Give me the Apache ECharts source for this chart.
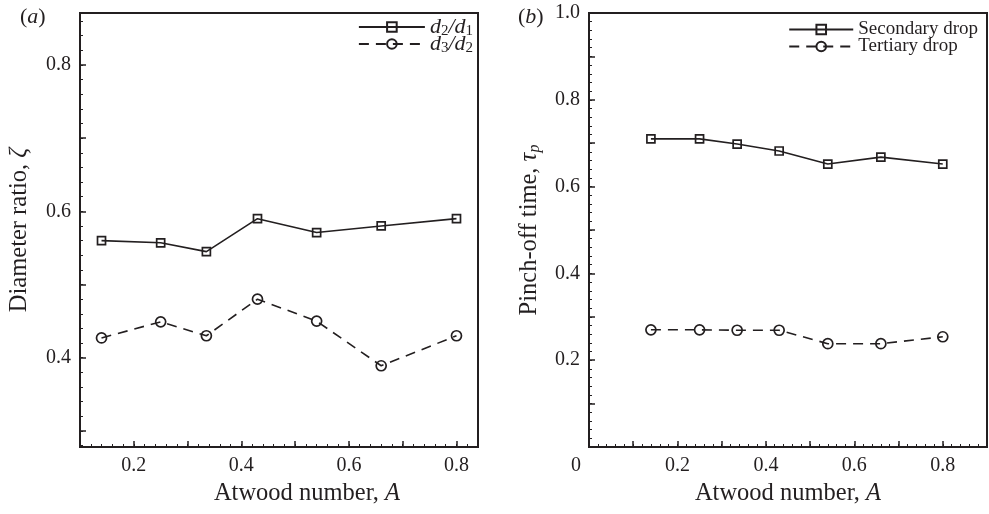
<!DOCTYPE html>
<html><head><meta charset="utf-8">
<script src="https://cdn.jsdelivr.net/npm/echarts@6/dist/echarts.min.js"></script>
<style>html,body{margin:0;padding:0;background:#fff}#c{width:989px;height:514px}</style>
</head><body><div id="c"></div>
<script>
// ---- data ----
const atwood = [0.14, 0.25, 0.335, 0.43, 0.54, 0.66, 0.80];
const ratioD2D1 = [0.560, 0.557, 0.545, 0.590, 0.571, 0.580, 0.590];
const ratioD3D2 = [0.427, 0.449, 0.430, 0.480, 0.450, 0.389, 0.430];
const pinchSecondary = [0.710, 0.710, 0.698, 0.682, 0.652, 0.668, 0.652];
const pinchTertiary = [0.270, 0.270, 0.269, 0.269, 0.238, 0.238, 0.254];

const xLabelsA = [0.2, 0.4, 0.6, 0.8];
const xMajorA = [0.1, 0.2, 0.3, 0.4, 0.5, 0.6, 0.7, 0.8];
const yLabelsA = [0.4, 0.6, 0.8];
const yMajorA = [0.3, 0.4, 0.5, 0.6, 0.7, 0.8];
const xLabelsB = [0, 0.2, 0.4, 0.6, 0.8];
const xMajorB = [0, 0.1, 0.2, 0.3, 0.4, 0.5, 0.6, 0.7, 0.8, 0.9];
const yLabelsB = [0.2, 0.4, 0.6, 0.8, 1.0];
const yMajorB = [0.1, 0.2, 0.3, 0.4, 0.5, 0.6, 0.7, 0.8, 0.9, 1.0];

// ---- styling ----
const INK = '#231f20';
const FONT = 'Liberation Serif';
const NAME_SIZE = 24.5;
function minorTicks(lo, hi) {
  const out = [];
  for (let k = Math.ceil(lo * 50 - 1e-9); k <= Math.floor(hi * 50 + 1e-9); k++) out.push(+(k / 50).toFixed(2));
  return out;
}
const richBase = {
  n: {fontFamily: FONT, fontSize: NAME_SIZE, color: INK},
  i: {fontFamily: FONT, fontSize: NAME_SIZE, fontStyle: 'italic', color: INK},
  si: {fontFamily: FONT, fontSize: 16, fontStyle: 'italic', color: INK, padding: [10, 0, 0, 0]},
  o: {fontFamily: FONT, fontSize: 20, color: INK, padding: [0, 26, 0, 0]}
};
function mainAxis(grid, min, max, major, labels, extra) {
  return Object.assign({
    type: 'value', gridIndex: grid, min: min, max: max,
    axisLine: {show: true, onZero: false, lineStyle: {color: INK, width: 2}},
    axisTick: {show: true, inside: true, length: 6, customValues: major, lineStyle: {color: INK, width: 1.5}},
    axisLabel: {show: true, customValues: labels, fontFamily: FONT, fontSize: 20, color: INK, margin: 9,
      formatter: v => (Math.abs(v) < 1e-9 ? '{o|0}' : (+v).toFixed(1)), rich: richBase},
    splitLine: {show: false},
    nameTextStyle: {fontFamily: FONT, fontSize: NAME_SIZE, color: INK, rich: richBase},
    nameLocation: 'middle'
  }, extra || {});
}
function minorAxis(grid, min, max, pos) {
  return {
    type: 'value', gridIndex: grid, min: min, max: max, position: pos,
    axisLine: {show: false},
    axisTick: {show: true, inside: true, length: 3, customValues: minorTicks(min, max), lineStyle: {color: INK, width: 1}},
    axisLabel: {show: false}, splitLine: {show: false}
  };
}
const legendRich = {
  t: {fontFamily: FONT, fontSize: 19, color: INK},
  i: {fontFamily: FONT, fontSize: 22, fontStyle: 'italic', color: INK},
  s: {fontFamily: FONT, fontSize: 15, color: INK, padding: [9, 0, 0, 0]}
};
const legendNames = {
  'd2/d1': '{i|d}{s|2}{i|/d}{s|1}',
  'd3/d2': '{i|d}{s|3}{i|/d}{s|2}',
  'Secondary drop': '{t|Secondary drop}',
  'Tertiary drop': '{t|Tertiary drop}'
};
function lineSeries(name, xi, yi, xs, ys, sym, dashed) {
  return {
    name: name, type: 'line', xAxisIndex: xi, yAxisIndex: yi,
    data: xs.map((x, k) => [x, ys[k]]),
    symbol: sym, symbolSize: sym === 'rect' ? 8 : 10,
    lineStyle: {color: INK, width: 1.6, type: dashed ? [10, 7] : 'solid'},
    itemStyle: {color: 'rgba(255,255,255,0)', borderColor: INK, borderWidth: 1.7},
    emphasis: {disabled: true}, z: 3
  };
}

const chart = echarts.init(document.getElementById('c'), null, {renderer: 'canvas'});
chart.setOption({
  animation: false,
  backgroundColor: '#fff',
  title: [
    {text: '({i|a})', left: 15, top: 1, textStyle: {fontFamily: FONT, fontSize: 22, fontWeight: 'normal', color: INK,
      rich: {i: {fontFamily: FONT, fontSize: 22, fontStyle: 'italic', color: INK}}}},
    {text: '({i|b})', left: 513, top: 1, textStyle: {fontFamily: FONT, fontSize: 22, fontWeight: 'normal', color: INK,
      rich: {i: {fontFamily: FONT, fontSize: 22, fontStyle: 'italic', color: INK}}}}
  ],
  grid: [
    {left: 80, top: 13, width: 398, height: 434, show: true, borderColor: INK, borderWidth: 2, containLabel: false},
    {left: 589, top: 13, width: 398, height: 434, show: true, borderColor: INK, borderWidth: 2, containLabel: false}
  ],
  legend: [
    {data: ['d2/d1', 'd3/d2'], orient: 'vertical', right: 516, top: 16, padding: 0,
      itemWidth: 66, itemHeight: 12, itemGap: -6, formatter: n => legendNames[n],
      textStyle: {fontFamily: FONT, fontSize: 19, color: INK, rich: legendRich}, selectedMode: false},
    {data: ['Secondary drop', 'Tertiary drop'], orient: 'vertical', right: 11, top: 20, padding: 0,
      itemWidth: 64, itemHeight: 12, itemGap: -2, formatter: n => legendNames[n],
      textStyle: {fontFamily: FONT, fontSize: 19, color: INK, rich: legendRich}, selectedMode: false}
  ],
  xAxis: [
    mainAxis(0, 0.1, 0.84, xMajorA, xLabelsA, {position: 'bottom', name: '{n|Atwood number, }{i|A}', nameGap: 23,
      nameTextStyle: {fontFamily: FONT, fontSize: NAME_SIZE, color: INK, rich: richBase, padding: [0, 0, 0, 56]}}),
    minorAxis(0, 0.1, 0.84, 'bottom'),
    mainAxis(1, 0, 0.9, xMajorB, xLabelsB, {position: 'bottom', name: '{n|Atwood number, }{i|A}', nameGap: 23}),
    minorAxis(1, 0, 0.9, 'bottom')
  ],
  yAxis: [
    mainAxis(0, 0.278, 0.871, yMajorA, yLabelsA, {position: 'left', name: '{n|Diameter ratio, }{i|ζ}', nameGap: 48}),
    minorAxis(0, 0.278, 0.871, 'left'),
    mainAxis(1, 0, 1.0, yMajorB, yLabelsB, {position: 'left', name: '{n|Pinch-off time, }{i|τ}{si|p}', nameGap: 46}),
    minorAxis(1, 0, 1.0, 'left')
  ],
  series: [
    lineSeries('d2/d1', 0, 0, atwood, ratioD2D1, 'rect', false),
    lineSeries('d3/d2', 0, 0, atwood, ratioD3D2, 'circle', true),
    lineSeries('Secondary drop', 2, 2, atwood, pinchSecondary, 'rect', false),
    lineSeries('Tertiary drop', 2, 2, atwood, pinchTertiary, 'circle', true)
  ]
});
</script></body></html>
